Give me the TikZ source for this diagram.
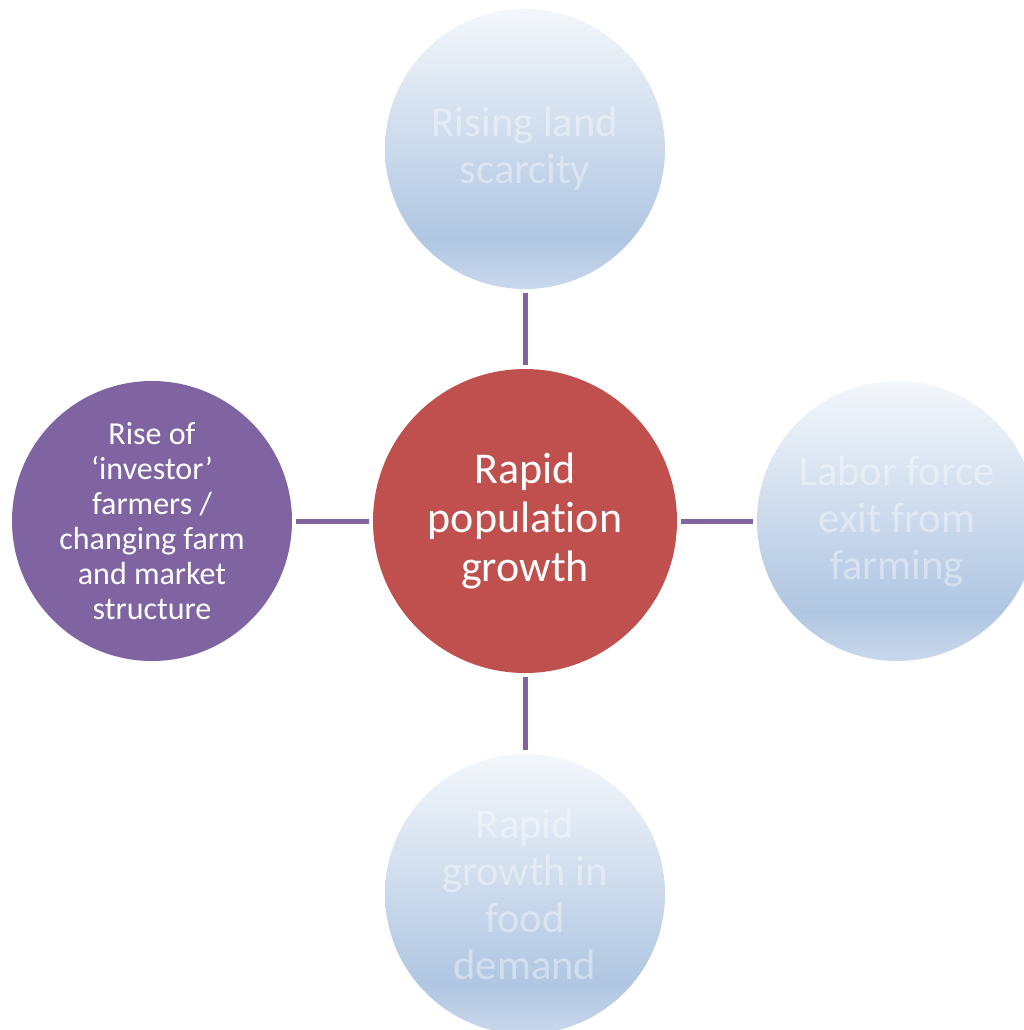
\documentclass[tikz,border=0pt]{standalone}
\usepackage{fontspec}
\setmainfont{Carlito}[Ligatures=NoCommon]
\usepackage{tikz}
\usetikzlibrary{positioning}
\definecolor{popred}{HTML}{C0504D}
\definecolor{investor}{HTML}{8064A2}
\definecolor{spoke}{HTML}{8064A2}
\definecolor{paletop}{HTML}{F4F7FB}
\definecolor{palemid}{HTML}{B0C6E2}
\definecolor{palebot}{HTML}{C9D8EC}
\pgfdeclareverticalshading{palefade}{100bp}{color(0bp)=(palebot); color(25bp)=(palebot); color(34bp)=(palemid); color(75bp)=(paletop); color(100bp)=(paletop)}

\begin{document}
\begin{tikzpicture}[x=0.5pt, y=-0.5pt,
        hub/.style={circle, inner sep=0pt, minimum size=152pt, fill=popred, text=white, align=center, font=\fontsize{22}{24.5}\selectfont},
        pale/.style={circle, inner sep=0pt, minimum size=140pt, shading=palefade, text=white, text opacity=0.4, align=center, font=\fontsize{21.3}{23.5}\selectfont},
        purple/.style={circle, inner sep=0pt, minimum size=140pt, fill=investor, text=white, align=center, font=\fontsize{16}{17.5}\selectfont},
        spokeline/.style={draw=spoke, line width=2.5pt, shorten <=2pt, shorten >=2pt}]
        \useasboundingbox (0,0) rectangle (1024,1030);
        \clip (0,0) rectangle (1024,1030);
        \node[hub] (pop) at (525,521) {Rapid\\population\\growth};
        \node[pale] (land) at (525,149) {Rising land\\scarcity};
        \node[pale] (labor) at (897,521) {Labor force\\exit from\\farming};
        \node[pale] (food) at (525,894) {Rapid\\growth in\\food\\demand};
        \node[purple] (invest) at (152,521) {Rise of\\‘investor’\\farmers /\\changing farm\\and market\\structure};
        \draw[spokeline] (pop)--(land);
        \draw[spokeline] (pop)--(labor);
        \draw[spokeline] (pop)--(food);
        \draw[spokeline] (pop)--(invest);
    \end{tikzpicture}
\end{document}
